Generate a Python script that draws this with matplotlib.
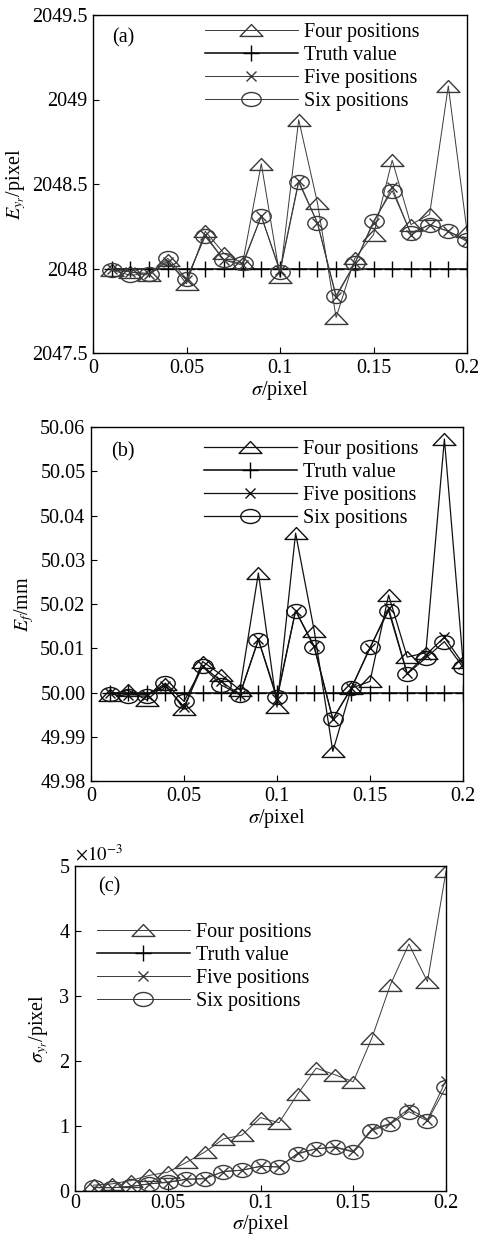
"""
    Three stacked panels: estimation error of the principal point (a),
    of the focal length (b) and std of the principal point (c) vs noise level.
"""

import numpy as np
import matplotlib
matplotlib.use("Agg")
from matplotlib import pyplot as plt
from matplotlib.path import Path
from matplotlib.lines import Line2D

plt.rcParams['font.family'] = ['Liberation Serif', 'DejaVu Serif']
plt.rcParams['mathtext.fontset'] = 'stix'

sigma = [0.01, 0.02, 0.03, 0.04, 0.05, 0.06, 0.07, 0.08, 0.09, 0.10,
         0.11, 0.12, 0.13, 0.14, 0.15, 0.16, 0.17, 0.18, 0.19, 0.20]
labels = ["Four positions", "Truth value", "Five positions", "Six positions"]

# (a) principal point y, pixel
ey_truth = 2048.0
ey_four = [2047.99, 2047.98, 2047.96, 2048.05, 2047.91, 2048.22, 2048.09, 2048.03, 2048.62, 2047.95,
           2048.88, 2048.39, 2047.71, 2048.06, 2048.20, 2048.64, 2048.26, 2048.32, 2049.08, 2048.22]
ey_five = [2048.00, 2047.98, 2047.97, 2048.04, 2047.93, 2048.20, 2048.05, 2048.02, 2048.31, 2047.99,
           2048.52, 2048.27, 2047.83, 2048.03, 2048.27, 2048.48, 2048.20, 2048.26, 2048.22, 2048.16]
ey_six = [2047.99, 2047.96, 2047.97, 2048.06, 2047.94, 2048.19, 2048.05, 2048.03, 2048.31, 2047.98,
          2048.51, 2048.27, 2047.84, 2048.03, 2048.28, 2048.46, 2048.21, 2048.26, 2048.22, 2048.17]

# (b) focal length, mm
ef_truth = 50.0
ef_four = [49.9995, 50.0005, 49.9983, 50.0019, 49.9962, 50.0070, 50.0040, 50.0006, 50.0270, 49.9967,
           50.0360, 50.0140, 49.9867, 50.0010, 50.0025, 50.0220, 50.0080, 50.0090, 50.0573, 50.0070]
ef_five = [50.0000, 49.9995, 49.9995, 50.0015, 49.9968, 50.0060, 50.0025, 49.9995, 50.0120, 49.9985,
           50.0185, 50.0105, 49.9940, 50.0010, 50.0100, 50.0190, 50.0043, 50.0085, 50.0125, 50.0065]
ef_six = [49.9997, 49.9991, 49.9992, 50.0021, 49.9980, 50.0059, 50.0017, 49.9995, 50.0119, 49.9990,
          50.0185, 50.0102, 49.9940, 50.0010, 50.0102, 50.0185, 50.0042, 50.0078, 50.0115, 50.0057]

# (c) std of principal point y, x1e-3 pixel
sd_four = [0.09, 0.11, 0.16, 0.24, 0.29, 0.44, 0.60, 0.80, 0.86, 1.13,
           1.05, 1.49, 1.89, 1.79, 1.68, 2.35, 3.17, 3.80, 3.22, 4.92]
sd_five = [0.05, 0.05, 0.07, 0.11, 0.13, 0.18, 0.19, 0.30, 0.32, 0.38,
           0.37, 0.58, 0.65, 0.68, 0.61, 0.95, 1.04, 1.27, 1.10, 1.70]
sd_six = [0.06, 0.05, 0.07, 0.11, 0.14, 0.18, 0.19, 0.30, 0.32, 0.38,
          0.37, 0.57, 0.65, 0.67, 0.60, 0.93, 1.03, 1.22, 1.08, 1.60]

W, H = 478, 1239
FS = 14.5

# flat triangle and ellipse like the original markers
TRI = Path([(-1, -0.52), (1, -0.52), (0, 0.52), (-1, -0.52)],
           [Path.MOVETO, Path.LINETO, Path.LINETO, Path.CLOSEPOLY])
circ = Path.unit_circle()
ELL = Path(circ.vertices * np.array([1.0, 0.72]), circ.codes)


def styles(col):
    return [dict(marker=TRI, ms=16.5, color=col),
            dict(marker='+', ms=11, color='black'),
            dict(marker='x', ms=6.5, color=col),
            dict(marker=ELL, ms=14, color=col)]


def make_axes(fig, l, r, t, b):
    ax = fig.add_axes([l / W, 1 - b / H, (r - l) / W, (b - t) / H])
    ax.tick_params(direction='in', length=4, labelsize=FS, top=False, right=False, pad=4)
    ax.set_xlim(0, 0.2)
    ax.set_xticks([0, 0.05, 0.1, 0.15, 0.2])
    ax.set_xticklabels(['0', '0.05', '0.1', '0.15', '0.2'])
    for sp in ax.spines.values():
        sp.set_linewidth(1.0)
    return ax


def draw(ax, series, col, lw):
    st = styles(col)
    handles = []
    for i, ys in enumerate(series):
        s = st[i]
        c = s['color']
        kw = dict(lw=lw if i != 1 else 1.1, mfc='none', mec=c, mew=1.0,
                  ms=s['ms'], marker=s['marker'], color=c)
        if ys is None:
            h = Line2D([], [], **kw)
        else:
            h, = ax.plot(sigma, ys, **kw)
        handles.append(h)
    return handles


def add_legend(fig, handles, x, y):
    fig.legend(handles, labels, loc='upper left', bbox_to_anchor=(x / W, 1 - y / H),
               frameon=False, fontsize=FS, handlelength=4.6, handletextpad=0.3,
               labelspacing=0.2, borderpad=0, borderaxespad=0)


fig = plt.figure(figsize=(W / 100, H / 100), dpi=100)

# (a)
ax = make_axes(fig, 93, 467, 15, 353)
ax.set_ylim(2047.5, 2049.5)
ax.set_yticks([2047.5, 2048, 2048.5, 2049, 2049.5])
ax.set_yticklabels(['2047.5', '2048', '2048.5', '2049', '2049.5'])
hs = draw(ax, [ey_four, [ey_truth] * len(sigma), ey_five, ey_six], '#3a3a3a', 0.7)
add_legend(fig, hs, 205, 23)
ax.text(123 / W, 1 - 38 / H, '(a)', transform=fig.transFigure, fontsize=FS, ha='center', va='center')
ax.set_xlabel(r'$\sigma$/pixel', fontsize=FS, labelpad=1)
ax.set_ylabel(r'$E_{y_r}$/pixel', fontsize=FS, labelpad=3)

# (b)
ax = make_axes(fig, 91, 463, 427, 781)
ax.set_ylim(49.98, 50.06)
ax.set_yticks([49.98, 49.99, 50.00, 50.01, 50.02, 50.03, 50.04, 50.05, 50.06])
ax.set_yticklabels(['%.2f' % v for v in ax.get_yticks()])
hs = draw(ax, [ef_four, [ef_truth] * len(sigma), ef_five, ef_six], '#111111', 0.9)
add_legend(fig, hs, 204, 440)
ax.text(123 / W, 1 - 452 / H, '(b)', transform=fig.transFigure, fontsize=FS, ha='center', va='center')
ax.set_xlabel(r'$\sigma$/pixel', fontsize=FS, labelpad=1)
ax.set_ylabel(r'$E_f$/mm', fontsize=FS, labelpad=3)

# (c)
ax = make_axes(fig, 75, 446, 866, 1191)
ax.tick_params(axis='x', pad=2)
ax.set_ylim(0, 5)
ax.set_yticks([0, 1, 2, 3, 4, 5])
hs = draw(ax, [sd_four, None, sd_five, sd_six], '#3a3a3a', 0.7)
add_legend(fig, hs, 97, 923)
ax.text(109 / W, 1 - 887 / H, '(c)', transform=fig.transFigure, fontsize=FS, ha='center', va='center')
ax.text(0.0, 1.005, r'$\times10^{-3}$', transform=ax.transAxes, fontsize=FS - 1, ha='left', va='bottom')
ax.set_xlabel(r'$\sigma$/pixel', fontsize=FS, labelpad=0)
ax.set_ylabel(r'$\sigma_{y_r}$/pixel', fontsize=FS, labelpad=6)

fig.savefig('out.png', dpi=100)
